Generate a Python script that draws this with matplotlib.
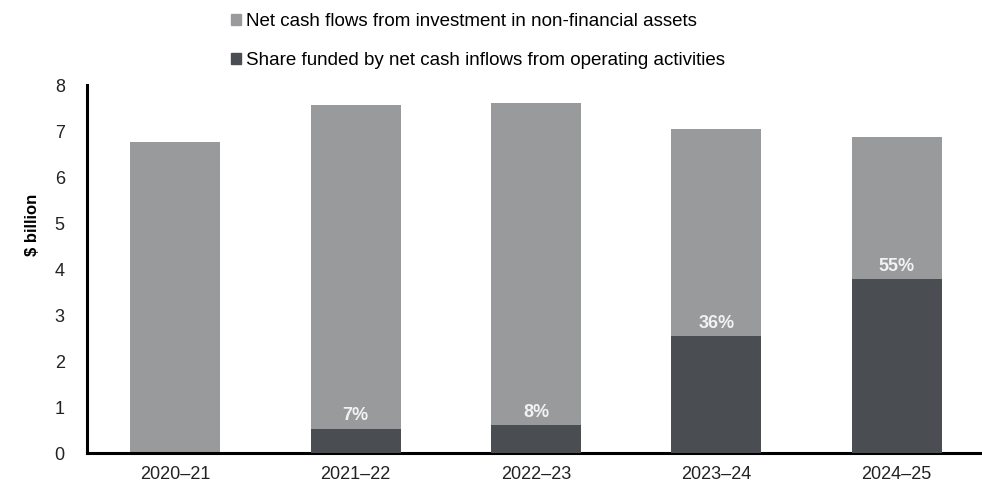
import matplotlib.pyplot as plt
from matplotlib.patches import Patch

plt.rcParams['font.family'] = ['Liberation Sans', 'DejaVu Sans']

years = ['2020–21', '2021–22', '2022–23', '2023–24', '2024–25']
investment = [6.77, 7.57, 7.61, 7.04, 6.87]   # $ billion
share_pct = [0, 7, 8, 36, 55]                 # % funded from operating inflows

funded = [t * p / 100 for t, p in zip(investment, share_pct)]

light = '#999a9b'
dark = '#4a4d52'

fig = plt.figure(figsize=(9.82, 4.94), dpi=100)
ax = fig.add_axes([87 / 982, 1 - 453 / 494, 898 / 982, 368 / 494])

x = range(len(years))
ax.bar(x, investment, width=0.5, color=light, zorder=2)
ax.bar(x, funded, width=0.5, color=dark, zorder=3)

for i, (f, p) in enumerate(zip(funded, share_pct)):
    if p > 0:
        ax.annotate(f'{p}%', (i, f), xytext=(0, 3), textcoords='offset points',
                    ha='center', va='bottom', color='#f2f2f2',
                    fontsize=13, fontweight='bold', zorder=4)

ax.set_xlim(-0.49, 4.49)
ax.set_ylim(0, 8)
ax.set_yticks(range(0, 9))
ax.set_xticks(list(x))
ax.set_xticklabels(years)
ax.tick_params(axis='both', length=0, labelsize=13, colors='#222222')
ax.tick_params(axis='x', pad=9)
ax.tick_params(axis='y', pad=16)
ax.set_ylabel('$ billion', fontsize=12, fontweight='bold')
ax.yaxis.set_label_coords(-0.052, 0.62)

for s in ['top', 'right']:
    ax.spines[s].set_visible(False)
for s in ['left', 'bottom']:
    ax.spines[s].set_linewidth(2.2)
    ax.spines[s].set_color('black')

handles = [Patch(color=light, label='Net cash flows from investment in non-financial assets'),
           Patch(color=dark, label='Share funded by net cash inflows from operating activities')]
fig.legend(handles=handles, loc='upper left', bbox_to_anchor=(214 / 982, 1.008),
           frameon=False, fontsize=13.5, handlelength=0.55, handleheight=0.55,
           handletextpad=0.25, labelspacing=1.2)

fig.savefig('out.png', dpi=100)
